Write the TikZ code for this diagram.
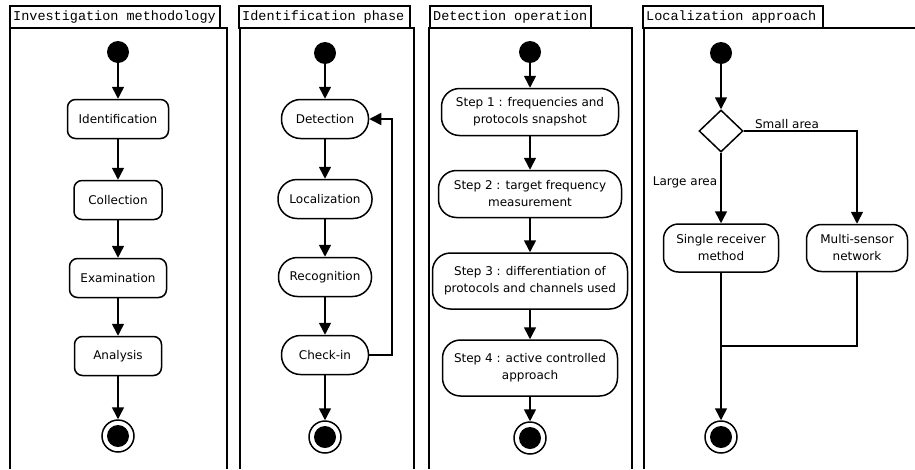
\documentclass[tikz,border=0pt]{standalone}
\usepackage{fontspec}
\setmainfont{DejaVu Sans}
\setmonofont{Liberation Mono}
\usetikzlibrary{arrows.meta,shapes.geometric}
\begin{document}
\begin{tikzpicture}[x=1pt,y=-1pt,
  arr/.style={line width=1.6pt,-{Triangle[length=12pt,width=12pt]}},
  ln/.style={line width=1.6pt},
  frame/.style={line width=1.6pt},
  ttl/.style={anchor=west,font=\ttfamily\fontsize{13.5}{15}\selectfont,inner sep=0pt},
  act/.style={draw,line width=1.5pt,fill=white,inner sep=0pt,align=center,font=\fontsize{12}{17}\selectfont},
  lbl/.style={anchor=base,inner sep=0pt,font=\fontsize{12}{14}\selectfont},
  startnode/.style={circle,fill=black,minimum size=22pt,inner sep=0pt},
  endnode/.style={circle,draw,line width=1.5pt,fill=white,minimum size=32pt,inner sep=0pt,
    path picture={\fill[black] (path picture bounding box.center) circle (11pt);}},
]
\useasboundingbox (0,0) rectangle (915,469);

% ---------- frames and titles ----------
\draw[frame] (10,469) -- (10,28) -- (227,28) -- (227,469);
\draw[frame] (10,6) rectangle (220,28);
\node[ttl] (t1) at (13,17) {Investigation methodology};

\draw[frame] (240,469) -- (240,28) -- (414,28) -- (414,469);
\draw[frame] (239,6) rectangle (410,28);
\node[ttl] (t2) at (242,17) {Identification phase};

\draw[frame] (429,469) -- (429,28) -- (632,28) -- (632,469);
\draw[frame] (430,6) rectangle (591,28);
\node[ttl] (t3) at (433,17) {Detection operation};

\draw[frame] (644,469) -- (644,28) -- (915,28);
\draw[frame] (643,6) rectangle (823,28);
\node[ttl] (t4) at (646,17) {Localization approach};

% ---------- panel 1 ----------
\node[startnode] (s1) at (118,52) {};
\node[act,rounded corners=8pt,minimum width=101pt,minimum height=39pt] (ident) at (118,119) {Identification};
\node[act,rounded corners=8pt,minimum width=88pt,minimum height=39pt] (coll) at (118,200) {Collection};
\node[act,rounded corners=8pt,minimum width=97pt,minimum height=39pt] (exam) at (118,278) {Examination};
\node[act,rounded corners=8pt,minimum width=87pt,minimum height=39pt] (anal) at (118,356) {Analysis};
\node[endnode] (e1) at (118,436) {};
\draw[arr] (s1) -- (ident);
\draw[arr] (ident) -- (coll);
\draw[arr] (coll) -- (exam);
\draw[arr] (exam) -- (anal);
\draw[arr] (anal) -- (e1);

% ---------- panel 2 ----------
\node[startnode] (s2) at (325,53) {};
\node[act,rounded corners=19pt,minimum width=87pt,minimum height=39pt] (det) at (325,119) {Detection};
\node[act,rounded corners=19pt,minimum width=94pt,minimum height=39pt] (loc) at (325,199) {Localization};
\node[act,rounded corners=19pt,minimum width=93pt,minimum height=39pt] (rec) at (325,277) {Recognition};
\node[act,rounded corners=19pt,minimum width=87pt,minimum height=39pt] (chk) at (325,355) {Check-in};
\node[endnode] (e2) at (325,437) {};
\coordinate (loopx) at (392,0);
\draw[arr] (s2) -- (det);
\draw[arr] (det) -- (loc);
\draw[arr] (loc) -- (rec);
\draw[arr] (rec) -- (chk);
\draw[arr] (chk) -- (e2);
\draw[arr] (chk.east) -- (chk.east -| loopx) |- (det.east);

% ---------- panel 3 ----------
\node[startnode] (s3) at (530,52) {};
\node[act,rounded corners=18pt,minimum width=177pt,minimum height=47pt] (st1) at (530,112) {Step 1 : frequencies and\\protocols snapshot};
\node[act,rounded corners=18pt,minimum width=183pt,minimum height=47pt] (st2) at (530,194) {Step 2 : target frequency\\measurement};
\node[act,rounded corners=18pt,minimum width=195pt,minimum height=56pt] (st3) at (530,281) {Step 3 : differentiation of\\protocols and channels used};
\node[act,rounded corners=18pt,minimum width=175pt,minimum height=56pt] (st4) at (530,368) {Step 4 : active controlled\\approach};
\node[endnode] (e3) at (530,438) {};
\draw[arr] (s3) -- (st1);
\draw[arr] (st1) -- (st2);
\draw[arr] (st2) -- (st3);
\draw[arr] (st3) -- (st4);
\draw[arr] (st4) -- (e3);

% ---------- panel 4 ----------
\node[startnode] (s4) at (721,53) {};
\node[draw,diamond,line width=1.5pt,fill=white,inner sep=0pt,minimum width=44pt,minimum height=42pt] (dec) at (721,131) {};
\node[act,rounded corners=15pt,minimum width=115pt,minimum height=48pt] (single) at (721,248) {Single receiver\\method};
\node[act,rounded corners=15pt,minimum width=101pt,minimum height=47pt] (multi) at (857,248) {Multi-sensor\\network};
\node[endnode] (e4) at (721,437) {};
\coordinate (merge) at (721,346);
\draw[arr] (s4) -- (dec);
\draw[arr] (dec.south) -- (single.north);
\draw[arr] (dec.east) -| (multi.north);
\draw[arr] (single) -- (e4);
\draw[ln] (multi.south) |- (merge);
\node[lbl] (small) at (787,128) {Small area};
\node[lbl] (large) at (685,185) {Large area};
\end{tikzpicture}
\end{document}
